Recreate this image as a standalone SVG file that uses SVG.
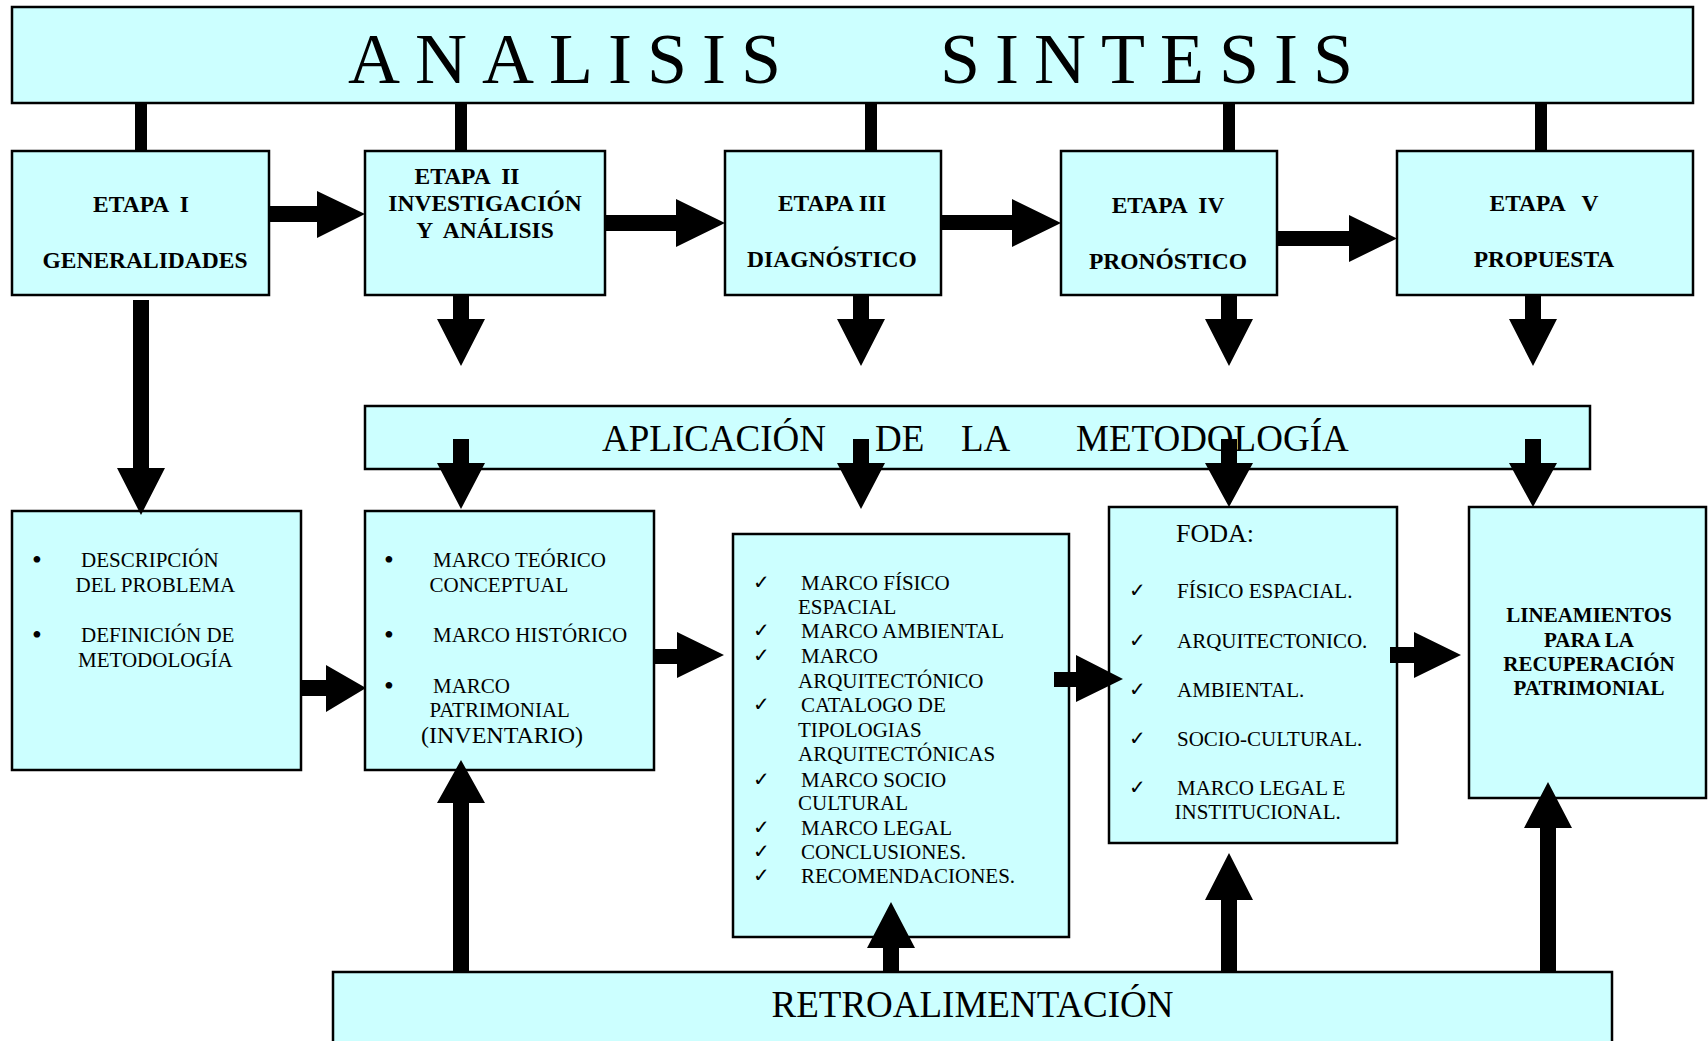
<svg xmlns="http://www.w3.org/2000/svg" width="1708" height="1041" viewBox="0 0 1708 1041">
<style>
.box{fill:#CCFFFF;stroke:#000;stroke-width:2.5}
.t{font-family:"Liberation Serif","Times New Roman",serif;fill:#000}
.b{font-weight:bold;font-size:23.5px;text-anchor:middle}
.r{font-size:21px}
.rb{font-weight:bold;font-size:21px;text-anchor:middle}
.ck{font-family:"DejaVu Sans",sans-serif;font-size:20px;fill:#000}
.bul{font-size:28px;text-anchor:middle}
.arr{fill:#000}
</style>
<rect width="1708" height="1041" fill="#fff"/>

<g id="analisis-sintesis">
<rect class="box" x="12" y="7" width="1681" height="96"/>
<text class="t" x="348" y="83" font-size="72" letter-spacing="15">ANALISIS</text>
<text class="t" x="940" y="83" font-size="72" letter-spacing="15">SINTESIS</text>
</g>

<g id="etapa1">
<rect class="box" x="12" y="151" width="257" height="144"/>
<text class="t b" x="141" y="212" xml:space="preserve">ETAPA  I</text>
<text class="t b" x="145" y="268">GENERALIDADES</text>
</g>
<g id="etapa2">
<rect class="box" x="365" y="151" width="240" height="144"/>
<text class="t b" x="467" y="184" xml:space="preserve">ETAPA  II</text>
<text class="t b" x="485" y="211">INVESTIGACIÓN</text>
<text class="t b" x="485" y="238" xml:space="preserve">Y  ANÁLISIS</text>
</g>
<g id="etapa3">
<rect class="box" x="725" y="151" width="216" height="144"/>
<text class="t b" x="832" y="211">ETAPA III</text>
<text class="t b" x="832" y="267">DIAGNÓSTICO</text>
</g>
<g id="etapa4">
<rect class="box" x="1061" y="151" width="216" height="144"/>
<text class="t b" x="1168" y="213" xml:space="preserve">ETAPA  IV</text>
<text class="t b" x="1168" y="269">PRONÓSTICO</text>
</g>
<g id="etapa5">
<rect class="box" x="1397" y="151" width="296" height="144"/>
<text class="t b" x="1544" y="211" xml:space="preserve">ETAPA   V</text>
<text class="t b" x="1544" y="267">PROPUESTA</text>
</g>

<g id="aplicacion">
<rect class="box" x="365" y="406" width="1225" height="63"/>
<text class="t" font-size="37" x="602" y="451">APLICACIÓN</text>
<text class="t" font-size="37" x="875" y="451">DE</text>
<text class="t" font-size="37" x="961" y="451">LA</text>
<text class="t" font-size="37" x="1076" y="451">METODOLOGÍA</text>
</g>

<g id="generalidades-detalle">
<rect class="box" x="12" y="511" width="289" height="259"/>
<text class="t bul" x="37" y="569">•</text>
<text class="t r" x="81" y="567">DESCRIPCIÓN</text>
<text class="t r" x="75.5" y="592">DEL PROBLEMA</text>
<text class="t bul" x="37" y="644">•</text>
<text class="t r" x="81" y="642">DEFINICIÓN DE</text>
<text class="t r" x="78" y="667">METODOLOGÍA</text>
</g>

<g id="investigacion-detalle">
<rect class="box" x="365" y="511" width="289" height="259"/>
<text class="t bul" x="389" y="569">•</text>
<text class="t r" x="433" y="567">MARCO TEÓRICO</text>
<text class="t r" x="429.5" y="592">CONCEPTUAL</text>
<text class="t bul" x="389" y="644">•</text>
<text class="t r" x="433" y="642">MARCO HISTÓRICO</text>
<text class="t bul" x="389" y="695">•</text>
<text class="t r" x="433" y="693">MARCO</text>
<text class="t r" x="429.5" y="717">PATRIMONIAL</text>
<text class="t" font-size="24" x="421" y="743">(INVENTARIO)</text>
</g>

<g id="diagnostico-detalle">
<rect class="box" x="733" y="534" width="336" height="403"/>
<text class="ck" x="753" y="589">✓</text>
<text class="t r" x="801" y="590">MARCO FÍSICO</text>
<text class="t r" x="798" y="614">ESPACIAL</text>
<text class="ck" x="753" y="637">✓</text>
<text class="t r" x="801" y="638">MARCO AMBIENTAL</text>
<text class="ck" x="753" y="662">✓</text>
<text class="t r" x="801" y="663">MARCO</text>
<text class="t r" x="798" y="688">ARQUITECTÓNICO</text>
<text class="ck" x="753" y="711">✓</text>
<text class="t r" x="801" y="712">CATALOGO DE</text>
<text class="t r" x="798" y="737">TIPOLOGIAS</text>
<text class="t r" x="798" y="761">ARQUITECTÓNICAS</text>
<text class="ck" x="753" y="786">✓</text>
<text class="t r" x="801" y="787">MARCO SOCIO</text>
<text class="t r" x="798" y="810">CULTURAL</text>
<text class="ck" x="753" y="834">✓</text>
<text class="t r" x="801" y="835">MARCO LEGAL</text>
<text class="ck" x="753" y="858">✓</text>
<text class="t r" x="801" y="859">CONCLUSIONES.</text>
<text class="ck" x="753" y="882">✓</text>
<text class="t r" x="801" y="883">RECOMENDACIONES.</text>
</g>

<g id="foda">
<rect class="box" x="1109" y="507" width="288" height="336"/>
<text class="t" font-size="26" x="1176" y="542">FODA:</text>
<text class="ck" x="1129" y="597">✓</text>
<text class="t r" x="1177" y="598">FÍSICO ESPACIAL.</text>
<text class="ck" x="1129" y="647">✓</text>
<text class="t r" x="1177" y="648">ARQUITECTONICO.</text>
<text class="ck" x="1129" y="696">✓</text>
<text class="t r" x="1177" y="697">AMBIENTAL.</text>
<text class="ck" x="1129" y="745">✓</text>
<text class="t r" x="1177" y="746">SOCIO-CULTURAL.</text>
<text class="ck" x="1129" y="794">✓</text>
<text class="t r" x="1177" y="795">MARCO LEGAL E</text>
<text class="t r" x="1174.5" y="819">INSTITUCIONAL.</text>
</g>

<g id="lineamientos">
<rect class="box" x="1469" y="507" width="237" height="291"/>
<text class="t rb" x="1589" y="622">LINEAMIENTOS</text>
<text class="t rb" x="1589" y="647">PARA LA</text>
<text class="t rb" x="1589" y="671">RECUPERACIÓN</text>
<text class="t rb" x="1589" y="695">PATRIMONIAL</text>
</g>

<g id="retroalimentacion">
<rect class="box" x="333" y="972" width="1279" height="80"/>
<text class="t" font-size="37" x="972.5" y="1017" text-anchor="middle">RETROALIMENTACIÓN</text>
</g>

<g id="connectors" class="arr">
<rect x="135" y="103" width="12" height="48"/>
<rect x="455" y="103" width="12" height="48"/>
<rect x="865" y="103" width="12" height="48"/>
<rect x="1223" y="103" width="12" height="48"/>
<rect x="1535" y="103" width="12" height="48"/>

<polygon points="269,206 317,206 317,191 365,214 317,238 317,222 269,222"/>
<polygon points="605,215 676,215 676,199 725,223 676,247 676,231 605,231"/>
<polygon points="941,215 1012,215 1012,199 1061,223 1012,247 1012,230 941,230"/>
<polygon points="1277,231 1349,231 1349,215 1397,238.5 1349,262 1349,246 1277,246"/>

<polygon points="133,300 149,300 149,468 165,468 141,515 117,468 133,468"/>
<polygon points="453,295 469,295 469,319 485,319 461,366 437,319 453,319"/>
<polygon points="853,295 869,295 869,319 885,319 861,366 837,319 853,319"/>
<polygon points="1221,295 1237,295 1237,319 1253,319 1229,366 1205,319 1221,319"/>
<polygon points="1525,295 1541,295 1541,319 1557,319 1533,366 1509,319 1525,319"/>

<polygon points="453,439 469,439 469,463 485,463 461,509 437,463 453,463"/>
<polygon points="853,439 869,439 869,463 885,463 861,509 837,463 853,463"/>
<polygon points="1221,439 1237,439 1237,463 1253,463 1229,507 1205,463 1221,463"/>
<polygon points="1525,439 1541,439 1541,463 1557,463 1533,507 1509,463 1525,463"/>

<polygon points="301,680 326,680 326,665 366,688 326,712 326,696 301,696"/>
<polygon points="654,649 677,649 677,632 724,655 677,678 677,664 654,664"/>
<polygon points="1054,672 1076,672 1076,655 1123,679 1076,702 1076,687 1054,687"/>
<polygon points="1390,647 1414,647 1414,632 1461,655 1414,678 1414,663 1390,663"/>

<polygon points="453,972 453,803 437,803 461,760 485,803 469,803 469,972"/>
<polygon points="883,972 883,948 867,948 891,902 915,948 899,948 899,972"/>
<polygon points="1221,972 1221,900 1205,900 1229,853 1253,900 1237,900 1237,972"/>
<polygon points="1540,972 1540,828 1524,828 1548,782 1572,828 1556,828 1556,972"/>
</g>
</svg>
